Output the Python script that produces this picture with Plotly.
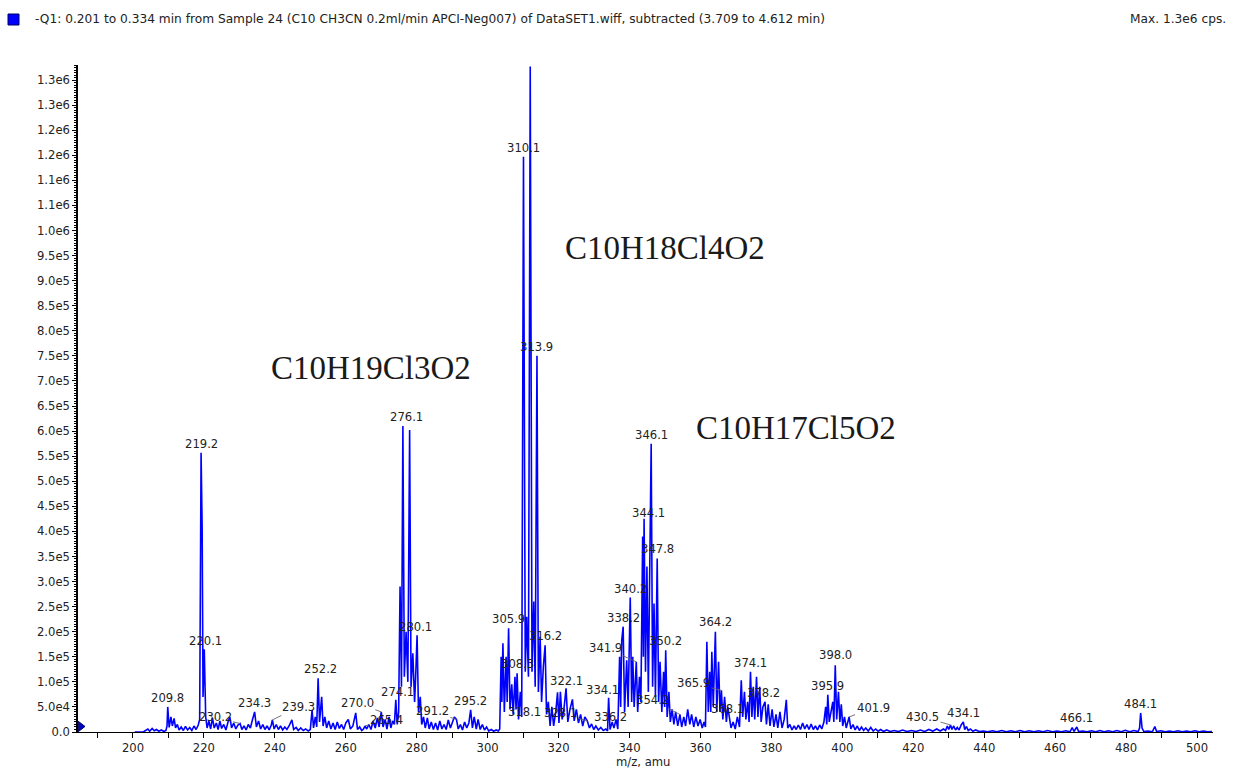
import plotly.graph_objects as go

# ---------------------------------------------------------------------------
# Spectrum: Q1 scan, m/z (amu) vs intensity (cps), listed as profile points
# ---------------------------------------------------------------------------
seg_200_221 = [
    (200.5, 0), (202.0, 1000), (203.0, 500), (204.2, 6000), (204.7, 1500), (205.4, 7000),
    (206.0, 2500), (206.6, 5000), (207.3, 1500), (208.0, 4000), (208.7, 1000), (209.3, 3000),
    (209.6, 12000), (209.8, 50000), (210.2, 9000), (210.7, 30000), (211.1, 12000), (211.6, 27000),
    (212.0, 8000), (212.5, 15000), (213.0, 4000), (213.6, 10000), (214.2, 3000), (214.8, 11000),
    (215.4, 4000), (216.0, 9000), (216.6, 3000), (217.2, 12000), (217.8, 5000), (218.4, 14000),
    (218.8, 25000), (219.2, 557000), (219.5, 410000), (219.75, 70000), (220.1, 165000),
    (220.5, 30000), (220.9, 8000),
]

seg_221_274 = [
    (221.4, 22000), (221.9, 6000), (222.4, 28000), (222.9, 8000), (223.5, 18000), (224.0, 5000),
    (224.5, 22000), (225.0, 7000), (225.6, 15000), (226.2, 4000), (226.8, 20000), (227.3, 30000),
    (227.8, 8000), (228.4, 18000), (229.0, 6000), (229.6, 14000), (230.2, 17000), (230.7, 5000),
    (231.3, 12000), (231.9, 4000), (232.5, 15000), (233.1, 8000), (233.7, 25000), (234.3, 40000),
    (234.8, 10000), (235.4, 22000), (236.0, 6000), (236.6, 15000), (237.2, 5000), (237.8, 12000),
    (238.4, 4000), (239.0, 14000), (239.3, 24000), (239.8, 6000), (240.4, 15000), (241.0, 5000),
    (241.6, 12000), (242.2, 4000), (242.8, 10000), (243.4, 5000), (244.0, 12000), (244.8, 24000),
    (245.3, 5000), (246.0, 9000), (246.6, 3000), (247.3, 8000), (248.0, 3000), (248.7, 6000),
    (249.4, 2000), (250.0, 5000), (250.5, 44000), (250.9, 8000), (251.4, 30000), (251.8, 10000),
    (252.2, 107000), (252.6, 20000), (253.2, 70000), (253.6, 12000), (254.1, 30000), (254.6, 8000),
    (255.2, 22000), (255.8, 6000), (256.4, 18000), (257.0, 5000), (257.6, 20000), (258.2, 7000),
    (258.8, 15000), (259.4, 5000), (260.0, 18000), (260.7, 25000), (261.3, 6000), (262.0, 12000),
    (262.8, 38000), (263.3, 5000), (263.9, 10000), (264.5, 3000), (265.0, 6000), (265.4, 12000),
    (265.9, 6000), (266.5, 15000), (267.1, 5000), (267.7, 22000), (268.3, 8000), (268.9, 28000),
    (269.4, 10000), (270.0, 40000), (270.5, 10000), (271.1, 25000), (271.6, 6000), (272.2, 30000),
    (272.7, 8000), (273.2, 22000), (273.7, 15000),
]

seg_274_303 = [
    (274.1, 64000), (274.5, 15000), (274.9, 40000), (275.3, 290000), (275.7, 90000),
    (276.1, 610000), (276.5, 110000), (277.0, 200000), (277.5, 100000), (278.0, 602000),
    (278.4, 90000), (278.9, 157000), (279.4, 60000), (279.7, 110000), (280.1, 193000),
    (280.5, 40000), (281.0, 70000), (281.4, 15000), (281.9, 30000), (282.4, 8000), (283.0, 28000),
    (283.5, 6000), (284.1, 20000), (284.7, 5000), (285.3, 18000), (285.9, 4000), (286.5, 22000),
    (287.1, 6000), (287.7, 15000), (288.3, 5000), (288.9, 24000), (289.5, 8000), (290.1, 18000),
    (290.6, 30000), (291.2, 25000), (291.7, 6000), (292.3, 15000), (292.9, 4000), (293.5, 20000),
    (294.1, 8000), (294.7, 18000), (295.2, 44000), (295.7, 8000), (296.2, 30000), (296.8, 6000),
    (297.3, 25000), (297.9, 5000), (298.5, 15000), (299.1, 4000), (299.7, 10000), (300.3, 2000),
    (301.0, 5000), (301.7, 1500), (302.4, 4000), (303.0, 2000),
]

seg_303_337 = [
    (303.4, 6000), (303.8, 150000), (304.0, 60000), (304.3, 177000), (304.7, 40000),
    (305.2, 150000), (305.5, 60000), (305.9, 207000), (306.3, 45000), (306.8, 95000),
    (307.2, 35000), (307.7, 110000), (308.0, 45000), (308.3, 117000), (308.7, 25000),
    (309.2, 80000), (309.6, 30000), (310.1, 1147000), (310.6, 120000), (311.0, 230000),
    (311.5, 110000), (312.0, 1327000), (312.5, 120000), (313.0, 260000), (313.4, 90000),
    (313.9, 750000), (314.3, 80000), (314.8, 190000), (315.2, 60000), (315.7, 130000),
    (316.2, 173000), (316.6, 35000), (317.1, 60000), (317.6, 12000), (318.1, 50000),
    (318.6, 12000), (319.2, 40000), (319.7, 79000), (320.1, 18000), (320.5, 80000),
    (321.0, 25000), (321.5, 45000), (322.1, 87000), (322.6, 20000), (323.2, 45000),
    (323.9, 65000), (324.4, 22000), (325.0, 45000), (325.6, 18000), (326.2, 35000),
    (326.8, 12000), (327.4, 30000), (328.1, 22000), (328.7, 8000), (329.3, 16000), (329.9, 5000),
    (330.5, 12000), (331.2, 4000), (331.9, 9000), (332.6, 3000), (333.3, 6000), (333.8, 2000),
    (334.1, 68000), (334.5, 5000), (335.1, 20000), (335.6, 8000), (336.2, 25000), (336.7, 6000),
]

seg_337_369 = [
    (337.2, 150000), (337.5, 50000), (337.8, 183000), (338.2, 210000), (338.6, 40000),
    (339.2, 143000), (339.6, 50000), (340.2, 268000), (340.6, 60000), (340.9, 150000),
    (341.3, 50000), (341.9, 140000), (342.3, 40000), (342.8, 110000), (343.2, 60000),
    (343.7, 390000), (343.9, 150000), (344.1, 425000), (344.5, 120000), (344.9, 330000),
    (345.3, 80000), (346.1, 575000), (346.5, 90000), (346.9, 256000), (347.3, 70000),
    (347.8, 346000), (348.2, 60000), (348.6, 140000), (349.1, 40000), (349.6, 120000),
    (349.9, 50000), (350.2, 163000), (350.6, 30000), (351.1, 80000), (351.5, 20000),
    (352.0, 45000), (352.5, 15000), (353.0, 40000), (353.6, 12000), (354.2, 35000),
    (354.7, 10000), (355.3, 30000), (355.8, 12000), (356.4, 45000), (357.0, 15000),
    (357.5, 35000), (358.1, 10000), (358.7, 30000), (359.3, 12000), (359.9, 25000),
    (360.5, 8000), (361.0, 20000), (361.4, 10000), (361.8, 180000), (362.2, 40000),
    (362.6, 120000), (362.9, 40000), (363.2, 160000), (363.6, 50000), (364.2, 200000),
    (364.6, 40000), (365.1, 140000), (365.5, 40000), (365.9, 83000), (366.3, 25000),
    (366.8, 70000), (367.3, 20000), (367.7, 50000), (368.1, 34000), (368.6, 8000),
]

seg_369_412 = [
    (369.2, 20000), (369.8, 6000), (370.4, 30000), (371.0, 10000), (371.5, 103000),
    (371.9, 30000), (372.4, 80000), (372.8, 25000), (373.3, 60000), (373.7, 20000),
    (374.1, 120000), (374.5, 30000), (374.9, 90000), (375.3, 25000), (375.8, 110000),
    (376.2, 30000), (376.7, 90000), (377.1, 20000), (377.6, 50000), (378.2, 60000),
    (378.6, 15000), (379.1, 55000), (379.6, 12000), (380.2, 45000), (380.7, 10000),
    (381.3, 35000), (381.8, 8000), (382.4, 40000), (383.0, 8000), (383.6, 25000),
    (384.2, 64000), (384.6, 8000), (385.2, 15000), (385.8, 4000), (386.4, 12000), (387.0, 5000),
    (387.6, 14000), (388.2, 5000), (388.8, 18000), (389.4, 6000), (390.0, 15000), (390.6, 5000),
    (391.2, 16000), (391.8, 5000), (392.4, 12000), (393.0, 4000), (393.6, 14000), (394.2, 6000),
    (394.8, 20000), (395.3, 50000), (395.6, 15000), (395.9, 74000), (396.3, 20000),
    (396.8, 40000), (397.3, 60000), (397.6, 20000), (398.0, 133000), (398.4, 25000),
    (398.9, 80000), (399.3, 20000), (399.7, 55000), (400.1, 12000), (400.6, 30000),
    (401.1, 8000), (401.5, 18000), (401.9, 30000), (402.4, 6000), (403.0, 15000), (403.6, 4000),
    (404.2, 12000), (404.8, 3000), (405.4, 10000), (406.0, 3000), (406.6, 8000), (407.3, 2000),
    (408.0, 9000), (408.7, 2000), (409.4, 6000), (410.1, 1500), (410.8, 5000), (411.6, 1000),
]

seg_412_505 = [
    (412.5, 4000), (413.5, 1000), (414.6, 3000), (415.8, 1000), (417.0, 4000), (418.2, 1000),
    (419.5, 3000), (420.8, 1000), (422.0, 4000), (423.2, 1000), (424.4, 5000), (425.5, 1500),
    (426.6, 6000), (427.6, 2000), (428.5, 6000), (429.1, 3000), (429.6, 12000), (430.0, 5000),
    (430.5, 14000), (430.9, 5000), (431.4, 12000), (431.9, 4000), (432.4, 9000), (432.9, 4000),
    (433.5, 14000), (434.1, 20000), (434.5, 5000), (435.0, 11000), (435.5, 3000), (436.1, 6000),
    (436.8, 1500), (437.6, 4000), (438.6, 1000), (439.8, 2000), (441.0, 500), (442.3, 2500),
    (443.6, 500), (444.9, 3000), (446.2, 500), (447.5, 2500), (448.8, 500), (450.1, 3000),
    (451.4, 500), (452.7, 2500), (454.0, 500), (455.3, 2500), (456.6, 500), (457.9, 3000),
    (459.2, 500), (460.5, 2000), (461.8, 500), (463.0, 2500), (464.2, 500), (464.8, 9000),
    (465.3, 1000), (466.1, 10000), (466.6, 1000), (467.8, 2000), (469.0, 500), (470.2, 2500),
    (471.4, 500), (472.6, 3000), (473.8, 500), (475.0, 2500), (476.2, 500), (477.4, 3000),
    (478.6, 500), (479.8, 3500), (481.0, 500), (482.2, 3000), (483.4, 1000), (483.8, 8000),
    (484.1, 38000), (484.5, 8000), (485.0, 1000), (486.2, 2000), (487.4, 500), (488.1, 11000),
    (488.6, 1000), (489.8, 2500), (491.0, 500), (492.2, 2000), (493.4, 500), (494.6, 2500),
    (495.8, 500), (497.0, 2000), (498.2, 500), (499.4, 2500), (500.6, 500), (501.8, 2000),
    (503.0, 500), (504.2, 1000),
]

# Peak labels (m/z as printed by the acquisition software)
peak_labels = [
    "209.8", "219.2", "220.1", "230.2", "234.3", "239.3", "252.2", "265.4", "270.0", "274.1",
    "276.1", "280.1", "291.2", "295.2", "305.9", "308.3", "310.1", "313.9", "316.2", "318.1",
    "322.1", "328.1", "334.1", "336.2", "338.2", "340.2", "341.9", "344.1", "346.1", "347.8",
    "350.2", "354.2", "364.2", "365.9", "368.1", "374.1", "378.2", "395.9", "398.0", "401.9",
    "430.5", "434.1", "466.1", "484.1",
]

# Isotope-cluster assignments
formula_text = ["C10H19Cl3O2", "C10H18Cl4O2", "C10H17Cl5O2"]
formula_mz = [267.1, 350.0, 386.9]
formula_cps = [7.26e5, 9.65e5, 6.06e5]

y_tick_labels = [
    "0.0", "5.0e4", "1.0e5", "1.5e5", "2.0e5", "2.5e5", "3.0e5", "3.5e5", "4.0e5", "4.5e5",
    "5.0e5", "5.5e5", "6.0e5", "6.5e5", "7.0e5", "7.5e5", "8.0e5", "8.5e5", "9.0e5", "9.5e5",
    "1.0e6", "1.1e6", "1.1e6", "1.2e6", "1.2e6", "1.3e6", "1.3e6",
]
y_tick_step = 5.0e4

header_text = ("-Q1: 0.201 to 0.334 min from Sample 24 (C10 CH3CN 0.2ml/min APCI-Neg007) "
               "of DataSET1.wiff, subtracted (3.709 to 4.612 min)")
max_text = "Max. 1.3e6 cps."
x_title = "m/z, amu"

# ---------------------------------------------------------------------------
# Layout geometry
# ---------------------------------------------------------------------------
W, H = 1237, 770
M_L, M_R, M_T, M_B = 78, 24, 65, 38
PLOT_W = W - M_L - M_R
PLOT_H = H - M_T - M_B
X_RANGE = [184.5, 504.5]
Y_RANGE = [0, 1.33e6]

SPEC_BLUE = "#0000ff"
TEXT_COL = "#222222"
SMALL_FONT = dict(family="DejaVu Sans", size=11.6, color=TEXT_COL)
HEADER_FONT = dict(family="DejaVu Sans", size=12.2, color=TEXT_COL)


def paper_x(px):
    return (px - M_L) / PLOT_W


def paper_y(py):
    return (H - M_B - py) / PLOT_H


spectrum = (seg_200_221 + seg_221_274 + seg_274_303 + seg_303_337
            + seg_337_369 + seg_369_412 + seg_412_505)
mz = [p[0] for p in spectrum]
cps = [p[1] for p in spectrum]
intensity_at = dict(zip(mz, cps))

fig = go.Figure()
fig.add_trace(go.Scatter(
    x=mz, y=cps, mode="lines",
    line=dict(color=SPEC_BLUE, width=1.6),
    hoverinfo="x+y", showlegend=False,
))

# small scan-start marker sitting on the y axis
fig.add_trace(go.Scatter(
    x=[X_RANGE[0] + 0.7], y=[1.1e4], mode="markers",
    marker=dict(symbol="triangle-right", size=9, color="#0000cc",
                line=dict(color="#000044", width=1)),
    cliponaxis=False, hoverinfo="skip", showlegend=False,
))

# label placement: (dx px, dy px, leader line)
label_offsets = {
    "220.1": (1, -8, False), "230.2": (-25, -6, True), "239.3": (26, -13, True),
    "252.2": (2, -9, False), "265.4": (22, -6, True), "270.0": (-24, -9, True),
    "274.1": (2, -8, False), "276.1": (4, -9, False), "280.1": (-2, -8, False),
    "291.2": (-24, -8, True), "318.1": (-27, 5, False), "322.1": (0, -7, False),
    "328.1": (-27, -8, True), "334.1": (-6, -8, False), "336.2": (-6, -2, False),
    "341.9": (-31, -14, True), "344.1": (4, -6, False), "354.2": (-27, -14, True),
    "364.2": (0, -10, False), "365.9": (-28, -7, True), "368.1": (-2, -6, False),
    "378.2": (-2, -9, False), "398.0": (0, -10, False), "401.9": (24, -9, True),
    "430.5": (-28, -8, True),
}

annotations = []
for lab in peak_labels:
    x = float(lab)
    y = intensity_at[x]
    dx, dy, leader = label_offsets.get(lab, (0, -9, False))
    annotations.append(dict(
        x=x, y=y, xref="x", yref="y", text=lab, font=SMALL_FONT,
        showarrow=True, ax=dx, ay=dy, axref="pixel", ayref="pixel",
        arrowhead=0, arrowwidth=0.9, standoff=0,
        arrowcolor="#666666" if leader else "rgba(0,0,0,0)",
    ))

for t, x, y in zip(formula_text, formula_mz, formula_cps):
    annotations.append(dict(
        x=x, y=y, xref="x", yref="y", text=t, showarrow=False,
        font=dict(family="Liberation Serif", size=33, color="#1a1a1a"),
    ))

annotations += [
    dict(x=paper_x(33), y=paper_y(19), xref="paper", yref="paper", text=header_text,
         showarrow=False, xanchor="left", yanchor="middle", font=HEADER_FONT),
    dict(x=paper_x(1228), y=paper_y(19), xref="paper", yref="paper", text=max_text,
         showarrow=False, xanchor="right", yanchor="middle", font=HEADER_FONT),
    dict(x=paper_x(643), y=paper_y(762), xref="paper", yref="paper", text=x_title,
         showarrow=False, xanchor="center", yanchor="middle", font=SMALL_FONT),
]

shapes = [
    dict(type="rect", xref="paper", yref="paper",
         x0=paper_x(8), x1=paper_x(19), y0=paper_y(25), y1=paper_y(14),
         fillcolor=SPEC_BLUE, line=dict(color="#000066", width=1)),
]

y_tick_vals = [i * y_tick_step for i in range(len(y_tick_labels))]

fig.update_layout(
    width=W, height=H,
    margin=dict(l=M_L, r=M_R, t=M_T, b=M_B, pad=0),
    paper_bgcolor="white", plot_bgcolor="white",
    annotations=annotations, shapes=shapes,
    showlegend=False,
    xaxis=dict(
        range=X_RANGE, tick0=200, dtick=20, ticks="outside", ticklen=5, tickwidth=1,
        tickcolor="black", showline=True, linecolor="black", linewidth=1,
        showgrid=False, zeroline=False, tickfont=SMALL_FONT,
        minor=dict(dtick=10, tick0=200, ticks="outside", ticklen=5, tickcolor="black",
                   showgrid=False),
    ),
    yaxis=dict(
        range=Y_RANGE, tickmode="array", tickvals=y_tick_vals, ticktext=y_tick_labels,
        ticks="outside", ticklen=4, tickwidth=1, tickcolor="black",
        showline=True, linecolor="black", linewidth=1.5,
        showgrid=False, zeroline=False, tickfont=SMALL_FONT,
        minor=dict(dtick=5000, tick0=0, ticks="outside", ticklen=2, tickcolor="black",
                   showgrid=False),
    ),
)

fig.write_html("out.html")
